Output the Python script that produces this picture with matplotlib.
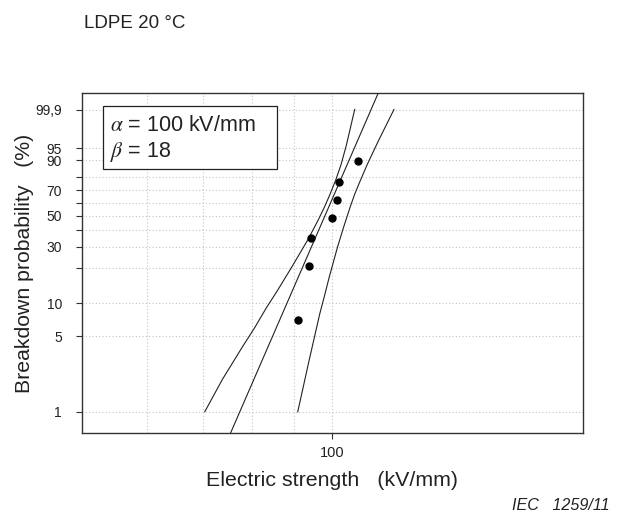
import numpy as np
import matplotlib
matplotlib.use("Agg")
import matplotlib.pyplot as plt
from matplotlib.patches import Rectangle

plt.rcParams["font.family"] = ["Liberation Sans", "DejaVu Sans"]
plt.rcParams["mathtext.fontset"] = "stix"

# Breakdown data: electric strength (kV/mm) and plotting probability (%)
strength = [90.9, 93.9, 94.4, 100.0, 101.4, 102.0, 107.3]
probability = [7.1, 20.9, 35.0, 48.2, 62.4, 76.3, 89.7]

# Weibull parameters of the fitted line
alpha = 100.0
beta = 18.0

# 90 % confidence bounds (probability %, strength kV/mm)
lower_p = [1, 2, 4, 6, 9, 13, 21, 34, 47, 57, 67, 78, 88, 96, 99.9]
lower_x = [70.3, 73.8, 78.0, 80.7, 83.3, 86.0, 89.6, 93.5, 96.2, 97.9, 99.4, 101.0, 102.5, 104.0, 106.4]
upper_p = [1, 3, 8, 11, 17, 30, 42, 57, 67, 77, 88, 97, 99.9]
upper_x = [90.9, 93.8, 96.6, 97.7, 99.2, 101.5, 103.2, 105.1, 106.4, 108.0, 110.2, 113.6, 118.6]

ytick_vals = [1, 5, 10, 20, 30, 40, 50, 60, 70, 80, 90, 95, 99.9]
ytick_labels = ["1", "5", "10", "", "30", "", "50", "", "70", "", "90", "95", "99,9"]
xgrid_vals = [60, 70, 80, 90, 100]
xtick_vals = [100]
xtick_labels = ["100"]


def weibull_fwd(p):
    p = np.clip(np.asarray(p, dtype=float), 1e-9, 100 - 1e-9)
    return np.log(-np.log(1 - p / 100.0))


def weibull_inv(y):
    return 100.0 * (1 - np.exp(-np.exp(np.asarray(y, dtype=float))))


W, H = 621, 515
fig = plt.figure(figsize=(W / 100, H / 100), dpi=100)
ax = fig.add_axes([81.5 / W, 1 - 433.3 / H, (583 - 81.5) / W, (433.3 - 92.7) / H])

ax.set_xscale("log")
ax.set_yscale("function", functions=(weibull_fwd, weibull_inv))
ax.set_xlim(50, 200)
ax.set_ylim(weibull_inv(-5.065), weibull_inv(2.296))

grid_kw = dict(color="#c4c4c4", lw=0.8, ls=(0, (1, 2)), zorder=0)
for gx in xgrid_vals:
    ax.axvline(gx, **grid_kw)
for gy in ytick_vals:
    ax.axhline(gy, **grid_kw)

ax.xaxis.set_major_locator(matplotlib.ticker.FixedLocator(xtick_vals))
ax.xaxis.set_major_formatter(matplotlib.ticker.FixedFormatter(xtick_labels))
ax.xaxis.set_minor_locator(matplotlib.ticker.NullLocator())
ax.yaxis.set_major_locator(matplotlib.ticker.FixedLocator(ytick_vals))
ax.yaxis.set_major_formatter(matplotlib.ticker.FixedFormatter(ytick_labels))
ax.yaxis.set_minor_locator(matplotlib.ticker.NullLocator())
ax.tick_params(axis="y", length=4, width=0.8, pad=10, labelsize=10, color="#333333", labelcolor="#222222")
ax.tick_params(axis="x", length=4, width=0.8, pad=5, labelsize=10.5, color="#333333", labelcolor="#222222")

for sp in ax.spines.values():
    sp.set_linewidth(1.0)
    sp.set_color("#333333")

# fitted Weibull line
xs = np.geomspace(50, 200, 600)
fs = 100.0 * (1 - np.exp(-(xs / alpha) ** beta))
ax.plot(xs, fs, color="#222222", lw=0.8, zorder=3)

# confidence bounds
ax.plot(lower_x, lower_p, color="#222222", lw=0.8, zorder=3)
ax.plot(upper_x, upper_p, color="#222222", lw=0.8, zorder=3)

# measured breakdowns
ax.plot(strength, probability, "o", color="black", ms=5, zorder=4)

ax.set_xlabel("Electric strength   (kV/mm)", fontsize=15.4, color="#222222", labelpad=8)
ax.set_ylabel("Breakdown probability   (%)", fontsize=15.3, color="#222222", labelpad=1)

# parameter box
ax.add_patch(Rectangle((0.043, 0.776), 0.3475, 0.184, transform=ax.transAxes,
                       fc="white", ec="#222222", lw=0.9, zorder=5))
ax.text(0.0568, 0.888, "$\\alpha$ = 100 kV/mm", transform=ax.transAxes, fontsize=15.5,
        va="baseline", ha="left", color="#222222", zorder=6)
ax.text(0.0568, 0.811, "$\\beta$ = 18", transform=ax.transAxes, fontsize=15.5,
        va="baseline", ha="left", color="#222222", zorder=6)

fig.text(84 / W, 1 - 28 / H, "LDPE 20 °C", fontsize=13.5, color="#222222", va="baseline", ha="left")
fig.text(610 / W, 1 - 509.7 / H, "IEC   1259/11", fontsize=11.6, style="italic", color="#222222",
         va="baseline", ha="right")

fig.savefig("out.png", dpi=100)
